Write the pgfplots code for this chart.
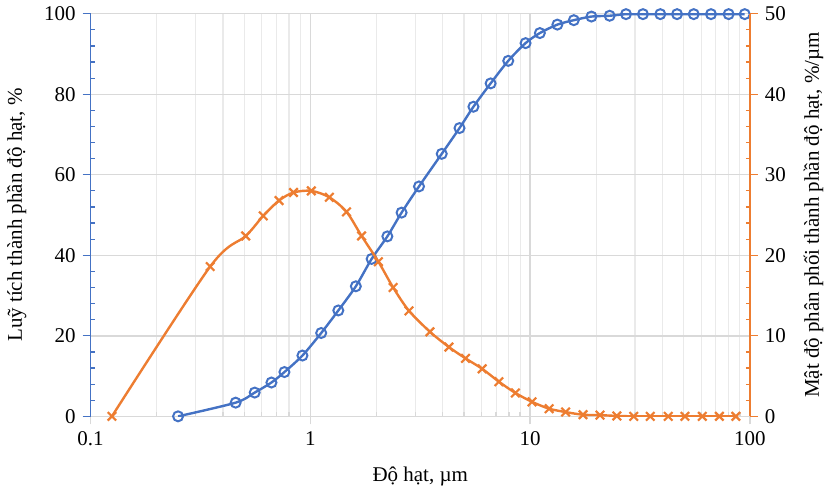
\documentclass[border=0pt]{standalone}
\usepackage{fontspec}
\setmainfont{Liberation Serif}
\usepackage{pgfplots}
\pgfplotsset{compat=1.18}
\definecolor{cblue}{HTML}{4472C4}
\definecolor{corange}{HTML}{ED7D31}
\definecolor{gridc}{HTML}{D9D9D9}

\begin{document}
\begin{tikzpicture}
\pgfplotsset{every axis/.append style={
  scale only axis, width=330pt, height=201.5pt,
  xmode=log, xmin=0.1, xmax=100,
  tick label style={font=\fontsize{10.5}{12}\selectfont},
  label style={font=\fontsize{10.5}{12}\selectfont},
  /pgf/number format/assume math mode=true,
  tick align=outside, major tick length=4pt, minor tick length=-2pt}}
\begin{axis}[axis x line*=bottom, axis y line*=left,
  ymin=0, ymax=100, ytick={0,20,...,100}, minor y tick num=4,
  xtick={0.1,1,10,100}, xticklabels={0.1,1,10,100},
  ymajorgrids, xmajorgrids, xminorgrids,
  major grid style={gridc, line width=0.7pt},
  minor grid style={gridc!55, line width=0.6pt},
  x axis line style={gridc, line width=0.7pt},
  y axis line style={cblue, line width=0.7pt},
  xtick style={gridc, line width=0.7pt}, ytick style={cblue, line width=0.6pt},
  xlabel={Độ hạt, µm}, ylabel={Luỹ tích thành phần độ hạt, \%},
  xlabel style={yshift=-4pt}, ylabel style={yshift=2pt}]
\addplot[cblue, line width=1.2pt, smooth, mark=o, mark size=2.5pt, mark options={line width=1pt}] coordinates {
(0.25,0) (0.457,3.4) (0.558,5.9) (0.665,8.4) (0.762,11.0) (0.92,15.1) (1.12,20.7)
(1.34,26.3) (1.61,32.3) (1.90,39.1) (2.24,44.7) (2.60,50.6) (3.12,57.1) (3.96,65.2)
(4.77,71.6) (5.52,76.9) (6.61,82.7) (7.95,88.3) (9.53,92.7) (11.07,95.2) (13.3,97.3)
(15.8,98.4) (19.0,99.3) (23.0,99.5) (27.3,99.9) (32.6,99.9) (39.1,99.9) (46.6,99.9)
(55.5,99.9) (66.5,99.9) (80.0,99.9) (94.7,99.9)};
\end{axis}
\begin{axis}[axis y line*=right, axis x line=none,
  ymin=0, ymax=50, ytick={0,10,...,50}, minor y tick num=4,
  y axis line style={corange, line width=0.7pt},
  ytick style={corange, line width=0.6pt},
  ylabel={Mật độ phân phối thành phần độ hạt, \%/µm},
  ylabel style={yshift=-2pt}]
\addplot[corange, line width=1.2pt, smooth, mark=x, mark size=3pt, mark options={line width=1.1pt}] coordinates {
(0.125,0) (0.35,18.6) (0.508,22.4) (0.61,24.9) (0.72,26.8) (0.838,27.8) (1.01,28.0)
(1.22,27.2) (1.46,25.4) (1.71,22.4) (2.04,19.2) (2.38,16.0) (2.81,13.1) (3.50,10.5)
(4.27,8.6) (5.08,7.2) (6.05,5.9) (7.21,4.3) (8.57,2.9) (10.2,1.8) (12.2,0.95)
(14.5,0.53) (17.4,0.2) (20.8,0.15) (24.8,0.05) (29.6,0) (35.2,0) (42.5,0) (50.6,0)
(60.7,0) (72.6,0) (86.3,0)};
\end{axis}
\end{tikzpicture}
\end{document}
